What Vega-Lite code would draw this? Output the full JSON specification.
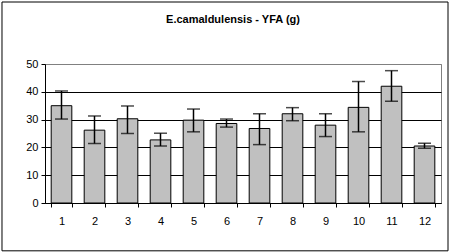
{
  "$schema": "https://vega.github.io/schema/vega-lite/v6.json",
  "autosize": "none",
  "width": 396,
  "height": 139,
  "padding": {"left": 45, "top": 64, "right": 9, "bottom": 49},
  "background": "white",
  "title": {
    "text": "E.camaldulensis - YFA (g)",
    "font": "Liberation Sans",
    "fontSize": 11,
    "fontWeight": "bold",
    "color": "black",
    "anchor": "middle",
    "frame": "group",
    "baseline": "alphabetic",
    "offset": -32,
    "dx": -10
  },
  "config": {
    "view": {"stroke": "#808080", "strokeWidth": 1},
    "axis": {
      "labelFont": "Liberation Sans",
      "labelFontSize": 11,
      "labelColor": "black",
      "domainColor": "black",
      "tickColor": "black",
      "tickSize": 4,
      "title": null
    }
  },
  "data": {
    "values": [
      {"g": 1, "mean": 35.0, "lo": 30.2, "hi": 40.3},
      {"g": 2, "mean": 26.2, "lo": 21.4, "hi": 31.3},
      {"g": 3, "mean": 30.3, "lo": 25.0, "hi": 34.9},
      {"g": 4, "mean": 22.7, "lo": 20.5, "hi": 25.1},
      {"g": 5, "mean": 29.8, "lo": 25.6, "hi": 33.8},
      {"g": 6, "mean": 28.6, "lo": 27.3, "hi": 30.2},
      {"g": 7, "mean": 26.8, "lo": 21.0, "hi": 32.1},
      {"g": 8, "mean": 32.1, "lo": 29.6, "hi": 34.3},
      {"g": 9, "mean": 28.0, "lo": 23.9, "hi": 32.1},
      {"g": 10, "mean": 34.4, "lo": 25.6, "hi": 43.7},
      {"g": 11, "mean": 42.0, "lo": 36.6, "hi": 47.6},
      {"g": 12, "mean": 20.5, "lo": 19.7, "hi": 21.5}
    ]
  },
  "layer": [
    {
      "layer": [
        {
          "mark": {"type": "bar", "fill": "#c0c0c0", "stroke": "black", "strokeWidth": 1},
          "encoding": {
            "x": {
              "field": "g",
              "type": "ordinal",
              "scale": {"paddingInner": 0.375, "paddingOuter": 0.1875},
              "axis": {
                "labelAngle": 0,
                "tickBand": "extent",
                "labelPadding": 8,
                "domainColor": "black"
              }
            },
            "y": {
              "field": "mean",
              "type": "quantitative",
              "scale": {"domain": [0, 50], "nice": false},
              "axis": {
                "values": [0, 10, 20, 30, 40, 50],
                "tickCount": 12,
                "grid": true,
                "gridColor": {"condition": {"test": "datum.value === 50", "value": "#808080"}, "value": "black"},
                "gridWidth": 1,
                "labelPadding": 3,
                "labelOverlap": false
              }
            }
          }
        },
        {
          "mark": {"type": "rule", "stroke": "black", "strokeWidth": 1.5},
          "encoding": {
            "x": {"field": "g", "type": "ordinal"},
            "y": {"field": "lo", "type": "quantitative"},
            "y2": {"field": "hi"}
          }
        },
        {
          "mark": {"type": "tick", "color": "black", "thickness": 1.5, "size": 13, "orient": "horizontal"},
          "encoding": {
            "x": {"field": "g", "type": "ordinal"},
            "y": {"field": "lo", "type": "quantitative"}
          }
        },
        {
          "mark": {"type": "tick", "color": "black", "thickness": 1.5, "size": 13, "orient": "horizontal"},
          "encoding": {
            "x": {"field": "g", "type": "ordinal"},
            "y": {"field": "hi", "type": "quantitative"}
          }
        }
      ]
    },
    {
      "data": {"values": [{"frame": "outer"}]},
      "mark": {"type": "rect", "fill": null, "fillOpacity": 0, "stroke": "black", "strokeWidth": 1, "clip": false},
      "encoding": {
        "x": {"datum": -0.1086, "type": "quantitative", "scale": {"domain": [0, 1], "nice": false, "zero": false}, "axis": null},
        "x2": {"datum": 1.0177},
        "y": {"datum": 72.3, "type": "quantitative", "scale": {"domain": [0, 50], "nice": false, "zero": false}, "axis": null},
        "y2": {"datum": -17.2}
      }
    }
  ],
  "resolve": {"scale": {"x": "independent", "y": "independent"}}
}
